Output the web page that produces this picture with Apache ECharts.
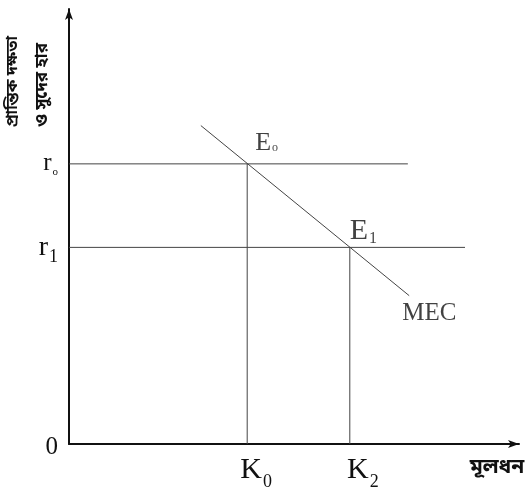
<!DOCTYPE html>
<html>
<head>
<meta charset="utf-8">
<script src="https://cdn.jsdelivr.net/npm/echarts@6/dist/echarts.min.js"></script>
<style>
html,body{margin:0;padding:0;background:#fff;}
#chart{width:531px;height:489px;}
</style>
</head>
<body>
<div id="chart"></div>
<script>
// ---- data ----
const mecX = [29.3, 75.6];          // MEC curve endpoints (capital)
const mecY = [73.2, 34.1];          // MEC curve endpoints (rate)
const rateValues = [64.4, 45.2];    // r0, r1
const rateSubs = ['o', '1'];
const rateLineEnds = [75.3, 88.0];  // where the horizontal rate lines stop
const capitalValues = [39.6, 62.4]; // K0, K2
const capitalSubs = ['0', '2'];
const eqSubs = ['o', '1'];          // E0, E1
const curveName = 'MEC';
const yTitle = ['প্রান্তিক দক্ষতা', 'ও সুদের হার'];
const xTitle = 'মূলধন';

const SERIF = '"Liberation Serif", "Times New Roman", serif';
const BN = '"Noto Sans Bengali", "Noto Sans", "DejaVu Sans", sans-serif';
const INK = '#111';
const LINE = '#444';

const chart = echarts.init(document.getElementById('chart'), null, {renderer: 'canvas'});

const series = [];
series.push({
  type: 'line', data: mecX.map((x, i) => [x, mecY[i]]),
  symbol: 'none', lineStyle: {color: LINE, width: 1}, silent: true
});
rateValues.forEach((r, i) => {
  series.push({
    type: 'line', data: [[0, r], [rateLineEnds[i], r]],
    symbol: 'none', lineStyle: {color: LINE, width: 1}, silent: true
  });
});
capitalValues.forEach((k, i) => {
  series.push({
    type: 'line', data: [[k, 0], [k, rateValues[i]]],
    symbol: 'none', lineStyle: {color: LINE, width: 1}, silent: true
  });
});

const labelRich = {
  e0: {fontFamily: SERIF, fontSize: 26, color: INK},
  s0: {fontFamily: SERIF, fontSize: 12, color: INK, padding: [11, 0, 0, 1]},
  e1: {fontFamily: SERIF, fontSize: 30, color: INK},
  s1: {fontFamily: SERIF, fontSize: 16, color: INK, padding: [14, 0, 0, 1]},
  mec: {fontFamily: SERIF, fontSize: 25, color: INK}
};
series.push({
  type: 'scatter', symbolSize: 0.1, silent: true,
  itemStyle: {color: 'rgba(0,0,0,0)'},
  label: {show: true, align: 'left', verticalAlign: 'middle', rich: labelRich},
  data: [
    {value: [capitalValues[0], rateValues[0]],
     label: {position: [8, -21], formatter: '{e0|E}{s0|' + eqSubs[0] + '}'}},
    {value: [capitalValues[1], rateValues[1]],
     label: {position: [0, -16], formatter: '{e1|E}{s1|' + eqSubs[1] + '}'}},
    {value: [mecX[1], mecY[1]],
     label: {position: [-7, 18], formatter: '{mec|' + curveName + '}'}}
  ]
});

const option = {
  animation: false,
  backgroundColor: '#fff',
  grid: {left: 69, right: 12, top: 9, bottom: 45, outerBoundsMode: 'none'},
  xAxis: {
    type: 'value', min: 0, max: 100,
    splitLine: {show: false}, axisTick: {show: false},
    axisLine: {show: true, onZero: false, lineStyle: {color: INK, width: 2},
      symbol: ['none', 'arrow'], symbolSize: [6, 11]},
    axisLabel: {
      show: true, customValues: capitalValues, margin: 5,
      formatter: function (v) {
        const i = capitalValues.indexOf(v);
        return '{k' + i + '|K}{ks|' + capitalSubs[i] + '}';
      },
      rich: {
        k0: {fontFamily: SERIF, fontSize: 30, color: INK, padding: [0, 0, 0, 18]},
        k1: {fontFamily: SERIF, fontSize: 30, color: INK, padding: [0, 0, 0, 26]},
        ks: {fontFamily: SERIF, fontSize: 18, color: INK, padding: [24, 0, 0, 1]}
      }
    }
  },
  yAxis: {
    type: 'value', min: 0, max: 100,
    splitLine: {show: false}, axisTick: {show: false},
    axisLine: {show: true, onZero: false, lineStyle: {color: INK, width: 2},
      symbol: ['none', 'arrow'], symbolSize: [6, 11]},
    axisLabel: {
      show: true, customValues: [0].concat(rateValues), margin: 11,
      formatter: function (v) {
        if (v === 0) return '{z|0}';
        const i = rateValues.indexOf(v);
        return '{r' + i + '|r}{rs' + i + '|' + rateSubs[i] + '}';
      },
      rich: {
        z: {fontFamily: SERIF, fontSize: 25, color: INK, padding: [6, 0, 0, 0]},
        r0: {fontFamily: SERIF, fontSize: 25, color: INK},
        rs0: {fontFamily: SERIF, fontSize: 11, color: INK, padding: [17, 0, 0, 1]},
        r1: {fontFamily: SERIF, fontSize: 28, color: INK},
        rs1: {fontFamily: SERIF, fontSize: 18, color: INK, padding: [20, 0, 0, 1]}
      }
    }
  },
  graphic: [
    {type: 'text', x: 14, y: 127, rotation: Math.PI / 2, silent: true,
     style: {text: yTitle[0], font: 'bold 16px ' + BN, fill: INK,
       align: 'left', verticalAlign: 'middle', textAlign: 'left', textVerticalAlign: 'middle'}},
    {type: 'text', x: 44, y: 127, rotation: Math.PI / 2, silent: true,
     style: {text: yTitle[1], font: 'bold 17px ' + BN, fill: INK,
       align: 'left', verticalAlign: 'middle', textAlign: 'left', textVerticalAlign: 'middle'}},
    {type: 'text', x: 497, y: 469, silent: true,
     style: {text: xTitle, font: 'bold 21px ' + BN, fill: INK,
       align: 'center', verticalAlign: 'middle', textAlign: 'center', textVerticalAlign: 'middle'}}
  ],
  series: series
};
chart.setOption(option);
</script>
</body>
</html>
